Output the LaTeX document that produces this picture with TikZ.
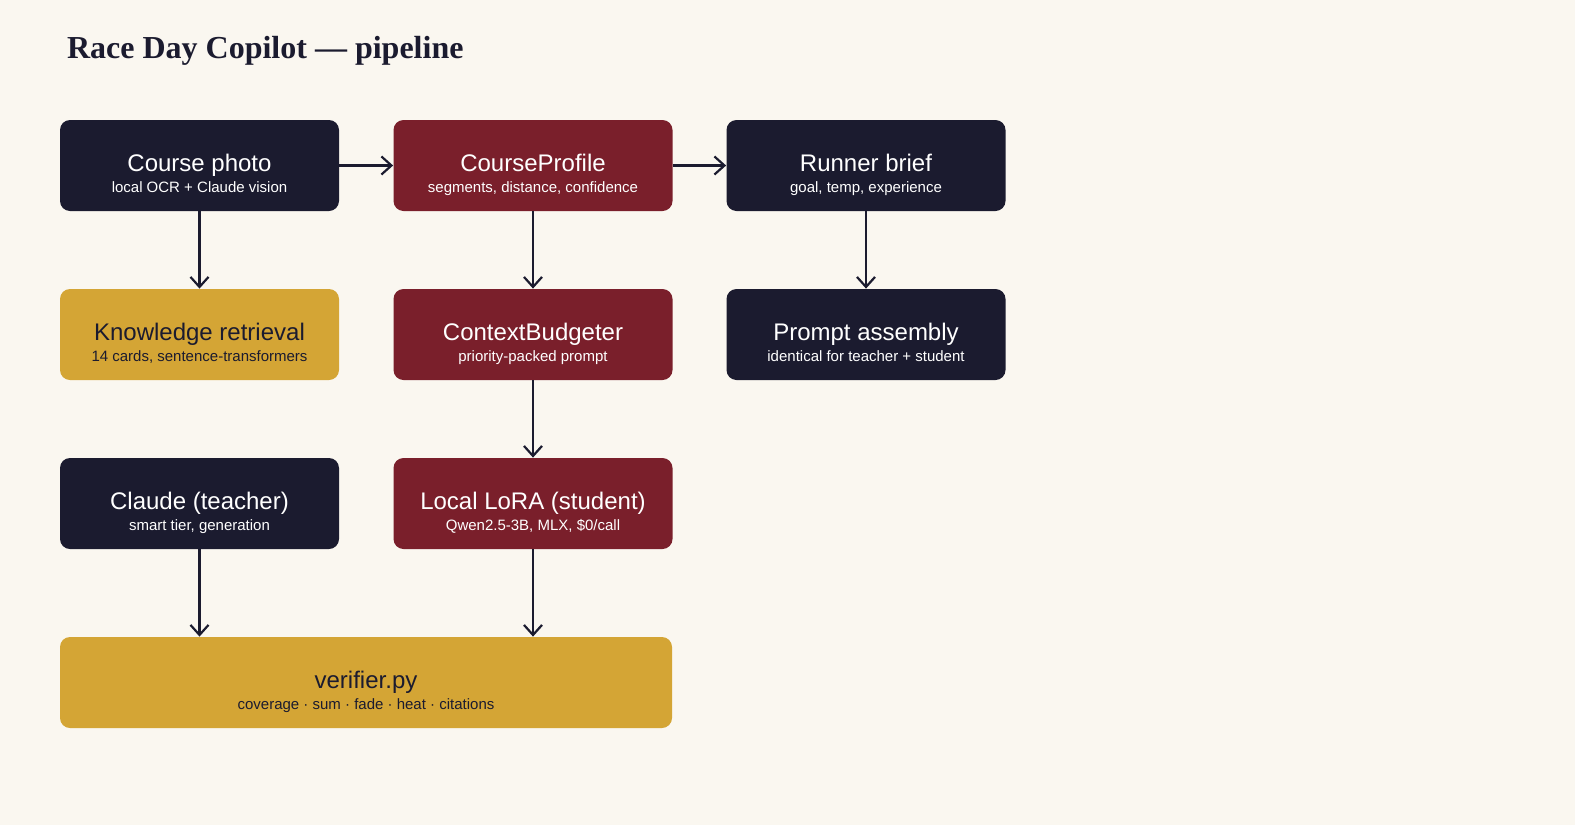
\documentclass[tikz,border=0pt]{standalone}
\usepackage{fontspec}
\setmainfont{Liberation Sans}
\newfontfamily\headfont{Liberation Serif}
\usetikzlibrary{arrows.meta}
\definecolor{bg}{HTML}{FAF7F0}
\definecolor{navy}{HTML}{1B1B2F}
\definecolor{maroon}{HTML}{7A1F2B}
\definecolor{gold}{HTML}{D4A535}
\begin{document}
\begin{tikzpicture}[x=0.5pt,y=-0.5pt,
  box/.style={rounded corners=5pt,minimum height=45.5pt,inner sep=0pt},
  dark/.style={box,fill=navy,text=white},
  red/.style={box,fill=maroon,text=white},
  yel/.style={box,fill=gold,text=navy},
  arr/.style={draw=navy,line width=1.1pt,-{Straight Barb[length=5pt,width=9pt]}}]
\useasboundingbox[fill=bg] (0,0) rectangle (1575,825);
\node[anchor=base west,text=navy,font=\headfont\bfseries\fontsize{16}{18}\selectfont] (t) at (60,58) {Race Day Copilot — pipeline};
\newcommand\bx[6]{\node[#1,minimum width=#4*0.5pt] (#2) at (#3) {};
 \node[font=\fontsize{12}{14}\selectfont,text=#6,anchor=base] at ([yshift=-3pt]#2.center) {#5};}
\newcommand\sub[3]{\node[font=\fontsize{7.5}{9}\selectfont,text=#3,anchor=base] at ([yshift=-13.5pt]#1.center) {#2};}
\bx{dark}{a}{199.5,165.5}{279}{Course photo}{white}\sub{a}{local OCR + Claude vision}{white}
\bx{red}{b}{533,165.5}{279}{CourseProfile}{white}\sub{b}{segments, distance, confidence}{white}
\bx{dark}{c}{866,165.5}{279}{Runner brief}{white}\sub{c}{goal, temp, experience}{white}
\bx{yel}{d}{199.5,334.5}{279}{Knowledge retrieval}{navy}\sub{d}{14 cards, sentence-transformers}{navy}
\bx{red}{e}{533,334.5}{279}{ContextBudgeter}{white}\sub{e}{priority-packed prompt}{white}
\bx{dark}{f}{866,334.5}{279}{Prompt assembly}{white}\sub{f}{identical for teacher + student}{white}
\bx{dark}{g}{199.5,503.5}{279}{Claude (teacher)}{white}\sub{g}{smart tier, generation}{white}
\bx{red}{h}{533,503.5}{279}{Local LoRA (student)}{white}\sub{h}{Qwen2.5-3B, MLX, \$0/call}{white}
\bx{yel}{v}{366,682.5}{612}{verifier.py}{navy}\sub{v}{coverage · sum · fade · heat · citations}{navy}
\draw[arr] (a.east) -- (b.west);
\draw[arr] (b.east) -- (c.west);
\draw[arr] (a.south) -- (d.north);
\draw[arr] (b.south) -- (e.north);
\draw[arr] (c.south) -- (f.north);
\draw[arr] (e.south) -- (h.north);
\draw[arr] (g.south) -- (g.south |- v.north);
\draw[arr] (h.south) -- (h.south |- v.north);
\end{tikzpicture}
\end{document}
